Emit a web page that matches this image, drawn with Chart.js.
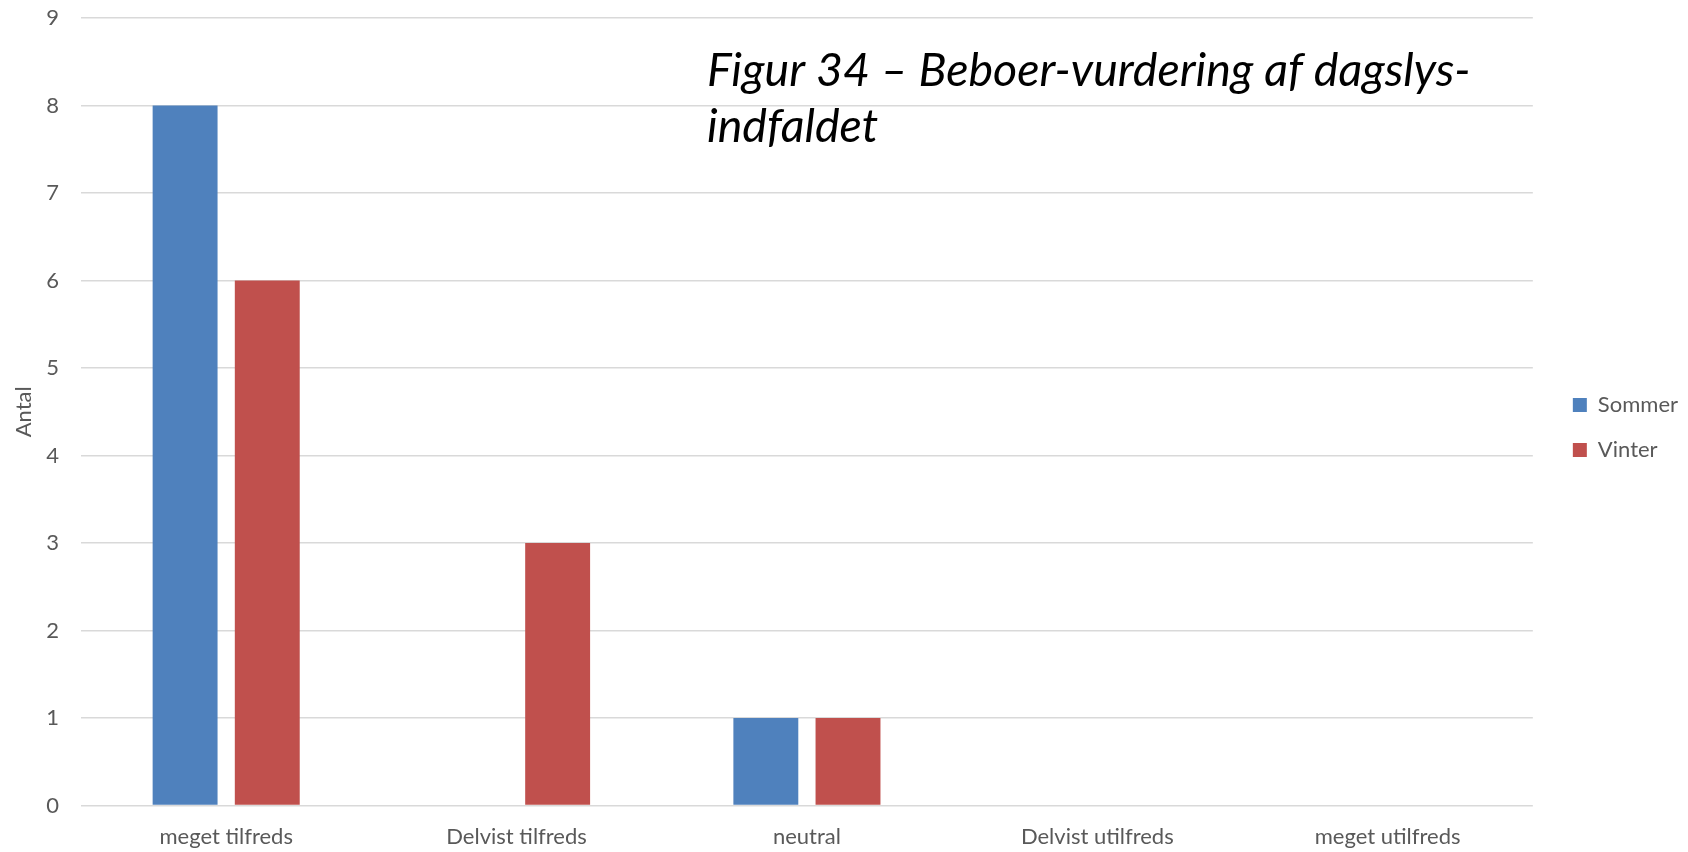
<!DOCTYPE html>
<html>
<head>
<meta charset="utf-8">
<script src="https://cdn.jsdelivr.net/npm/chart.js@4"></script>
<style>
  html, body { margin: 0; padding: 0; background: #fff; }
  #wrap { width: 1688px; height: 852px; }
</style>
</head>
<body>
<div id="wrap"><canvas id="bar-chart"></canvas></div>
<script>
const kategorier = ["meget tilfreds", "Delvist tilfreds", "neutral", "Delvist utilfreds", "meget utilfreds"]
const sommer = [8, 0, 1, 0, 0]
const vinter = [6, 3, 1, 0, 0]
const titelLinjer = ["Figur 34 – Beboer-vurdering af dagslys-", "indfaldet"]

const tekstFarve = "#595959"
const gitterFarve = "#d9d9d9"

// figurtitel inde i plotomraadet
const figurTitel = {
    id: 'figurTitel',
    afterDraw(chart) {
        const ctx = chart.ctx
        ctx.save()
        ctx.font = "italic 46.5px Lato"
        ctx.fillStyle = "#000"
        ctx.textBaseline = "middle"
        ctx.fillText(titelLinjer[0], 707, 71)
        ctx.fillText(titelLinjer[1], 707, 127)
        ctx.restore()
    }
}

Chart.defaults.font.family = "Lato"
Chart.defaults.font.size = 22
Chart.defaults.color = tekstFarve

const tomAkse = (pos, stoerrelse) => ({
    position: pos,
    display: true,
    grid: { display: false, drawTicks: false },
    border: { display: false },
    ticks: { display: false },
    afterFit: scale => {
        if (pos === 'top') scale.height = stoerrelse
        else scale.width = stoerrelse
    }
})

new Chart(document.getElementById("bar-chart"), {
    type: 'bar',
    data: {
        labels: kategorier,
        datasets: [
            {
                label: "Sommer",
                data: sommer,
                backgroundColor: "#4f81bd"
            },
            {
                label: "Vinter",
                data: vinter,
                backgroundColor: "#c0504d"
            }
        ]
    },
    options: {
        responsive: true,
        maintainAspectRatio: false,
        animation: false,
        categoryPercentage: 0.566,
        barPercentage: 0.79,
        layout: {
            autoPadding: false,
            padding: { top: 5, bottom: 2, left: 0, right: 0 }
        },
        plugins: {
            legend: {
                position: 'right',
                labels: {
                    boxWidth: 14,
                    boxHeight: 14,
                    padding: 23,
                    color: tekstFarve
                }
            },
            tooltip: { enabled: false }
        },
        scales: {
            x: {
                grid: {
                    display: true,
                    drawOnChartArea: false,
                    drawTicks: true,
                    tickLength: 18,
                    color: 'transparent',
                    tickColor: 'transparent'
                },
                border: { display: false },
                ticks: { padding: 0 }
            },
            y: {
                min: 0,
                max: 9,
                ticks: { stepSize: 1, padding: 0 },
                grid: {
                    color: gitterFarve,
                    lineWidth: 1.5,
                    drawTicks: true,
                    tickLength: 22,
                    tickColor: 'transparent'
                },
                border: { display: false },
                title: {
                    display: true,
                    text: "Antal",
                    padding: { top: 11, bottom: 0 }
                },
                afterFit: scale => { scale.width = 81 }
            },
            luftTop: tomAkse('top', 13),
            luftHoejre: tomAkse('right', 17)
        }
    },
    plugins: [figurTitel]
});
</script>
</body>
</html>
